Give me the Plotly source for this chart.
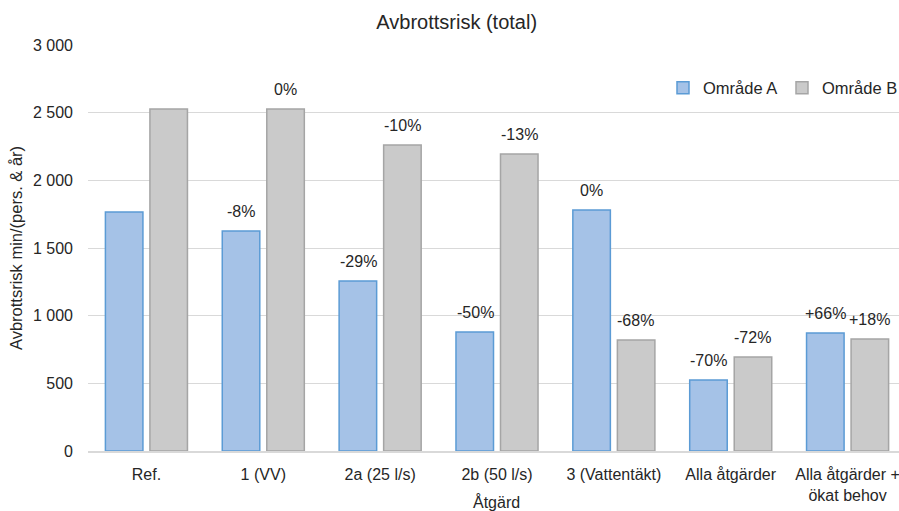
import plotly.graph_objects as go

categories = ["Ref.", "1 (VV)", "2a (25 l/s)", "2b (50 l/s)", "3 (Vattentäkt)",
              "Alla åtgärder", "Alla åtgärder +<br>ökat behov"]
omrade_a = [1766, 1626, 1256, 880, 1781, 525, 872]
omrade_b = [2527, 2527, 2261, 2195, 820, 695, 828]
labels_a = ["", "-8%", "-29%", "-50%", "0%", "-70%", "+66%"]
labels_b = ["", "0%", "-10%", "-13%", "-68%", "-72%", "+18%"]
y_ticks = [0, 500, 1000, 1500, 2000, 2500, 3000]
y_tick_text = ["0", "500", "1 000", "1 500", "2 000", "2 500", "3 000"]

FONT = "Liberation Sans, Arial, sans-serif"

fig = go.Figure()
fig.add_trace(go.Bar(
    name="Område A", x=categories, y=omrade_a,
    marker=dict(color="#a5c2e7", line=dict(color="#5b9bd5", width=1.5)),
))
fig.add_trace(go.Bar(
    name="Område B", x=categories, y=omrade_b,
    marker=dict(color="#cacaca", line=dict(color="#a5a5a5", width=1.5)),
))

annotations = []
for cat, val, lab in zip(categories, omrade_a, labels_a):
    if lab:
        annotations.append(dict(x=cat, y=val, text=lab, showarrow=False,
                                xshift=-22, yshift=9, yanchor="bottom",
                                font=dict(size=16, color="#262626", family=FONT)))
for cat, val, lab in zip(categories, omrade_b, labels_b):
    if lab:
        annotations.append(dict(x=cat, y=val, text=lab, showarrow=False,
                                xshift=22, yshift=9, yanchor="bottom",
                                font=dict(size=16, color="#262626", family=FONT)))
annotations.append(dict(x=0.504, y=-0.1256, xref="paper", yref="paper",
                        text="Åtgärd", showarrow=False, yanchor="middle",
                        font=dict(size=16, color="#262626", family=FONT)))

fig.update_layout(
    width=899, height=511,
    margin=dict(l=88, r=0, t=45, b=60, autoexpand=False),
    paper_bgcolor="white", plot_bgcolor="white",
    font=dict(family=FONT, size=16, color="#262626"),
    title=dict(text="Avbrottsrisk (total)", x=0.508, xanchor="center",
               y=0.957, yanchor="middle", font=dict(size=20, color="#262626")),
    barmode="group", bargap=0.238, bargroupgap=0.157,
    showlegend=True,
    legend=dict(orientation="h", x=0.709, xanchor="left", y=0.894, yanchor="middle",
                font=dict(size=16.5), bgcolor="rgba(0,0,0,0)", itemwidth=30,
                entrywidth=74, entrywidthmode="pixels"),
    annotations=annotations,
)
fig.update_xaxes(range=[-0.5, 6.44], showgrid=False, showline=True,
                 linecolor="#d9d9d9", linewidth=1.5, ticks="", automargin=False,
                 ticklabelstandoff=8, tickfont=dict(size=16))
fig.update_yaxes(range=[0, 3000], tickvals=y_ticks, ticktext=y_tick_text,
                 showgrid=True, gridcolor="#d9d9d9", gridwidth=1.3,
                 zeroline=False, showline=False, ticks="", automargin=False,
                 ticklabelstandoff=14, tickfont=dict(size=16),
                 title=dict(text="Avbrottsrisk min/(pers. & år)", font=dict(size=16.5),
                            standoff=6))

fig.write_html("out.html", config={"displayModeBar": False},
               post_script="document.body.style.margin='0';")
